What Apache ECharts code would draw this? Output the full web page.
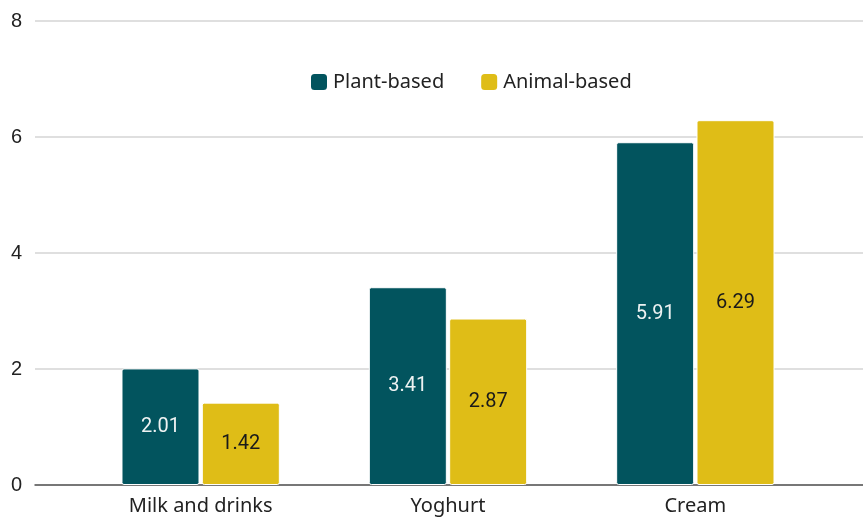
<!DOCTYPE html>
<html>
<head>
<meta charset="utf-8">
<script src="https://cdn.jsdelivr.net/npm/echarts@6/dist/echarts.min.js"></script>
<style>
  html, body { margin: 0; padding: 0; background: #fff; }
  #chart { width: 863px; height: 519px; }
</style>
</head>
<body>
<div id="chart"></div>
<script>
var categories = ['Milk and drinks', 'Yoghurt', 'Cream'];
var plantValues = [2.01, 3.41, 5.91];
var animalValues = [1.42, 2.87, 6.29];
var yTicks = [0, 2, 4, 6, 8];

var plantColor = '#02545e';
var animalColor = '#dfbd17';

var myChart = echarts.init(document.getElementById('chart'));

function barLabel(color) {
    return {
        show: true,
        position: 'inside',
        fontFamily: 'Roboto',
        fontSize: 20,
        color: color
    };
}

myChart.setOption({
    animation: false,
    legend: {
        top: 67,
        left: 304,
        itemWidth: 18,
        itemHeight: 18,
        itemGap: 35,
        icon: 'roundRect',
        textStyle: { fontFamily: 'Noto Sans', fontSize: 20, color: '#222' },
        data: ['Plant-based', 'Animal-based']
    },
    grid: [
        // full width grid, only for gridlines and the baseline
        { left: 35, right: 0, top: 21, bottom: 34 },
        // narrower grid holding the bars
        { left: 77, right: 44, top: 21, bottom: 34 }
    ],
    xAxis: [{
        gridIndex: 0,
        type: 'value',
        min: 0,
        max: 1,
        axisLine: { show: true, onZero: false, lineStyle: { color: '#555', width: 1.5 } },
        axisTick: { show: false },
        axisLabel: { show: false },
        splitLine: { show: false }
    }, {
        gridIndex: 1,
        type: 'category',
        data: categories,
        axisLine: { show: false },
        axisTick: { show: false },
        axisLabel: { margin: 11, fontFamily: 'Noto Sans', fontSize: 20, color: '#222' }
    }],
    yAxis: [{
        gridIndex: 0,
        type: 'value',
        min: yTicks[0],
        max: yTicks[yTicks.length - 1],
        interval: yTicks[1] - yTicks[0],
        axisLine: { show: false },
        axisTick: { show: false },
        axisLabel: { margin: 13, fontFamily: 'Liberation Sans', fontSize: 20, color: '#222' },
        splitLine: { lineStyle: { color: '#d4d4d4', width: 1.5 } }
    }, {
        gridIndex: 1,
        type: 'value',
        min: yTicks[0],
        max: yTicks[yTicks.length - 1],
        show: false
    }],
    series: [{
        name: 'Plant-based',
        type: 'bar',
        xAxisIndex: 1,
        yAxisIndex: 1,
        barWidth: 78,
        barGap: '3%',
        itemStyle: { color: plantColor, borderColor: '#fff', borderWidth: 1, borderRadius: 2 },
        label: barLabel('#eef2f2'),
        data: plantValues
    }, {
        name: 'Animal-based',
        type: 'bar',
        xAxisIndex: 1,
        yAxisIndex: 1,
        barWidth: 78,
        itemStyle: { color: animalColor, borderColor: '#fff', borderWidth: 1, borderRadius: 2 },
        label: barLabel('#1a1a1a'),
        data: animalValues
    }]
});
</script>
</body>
</html>
